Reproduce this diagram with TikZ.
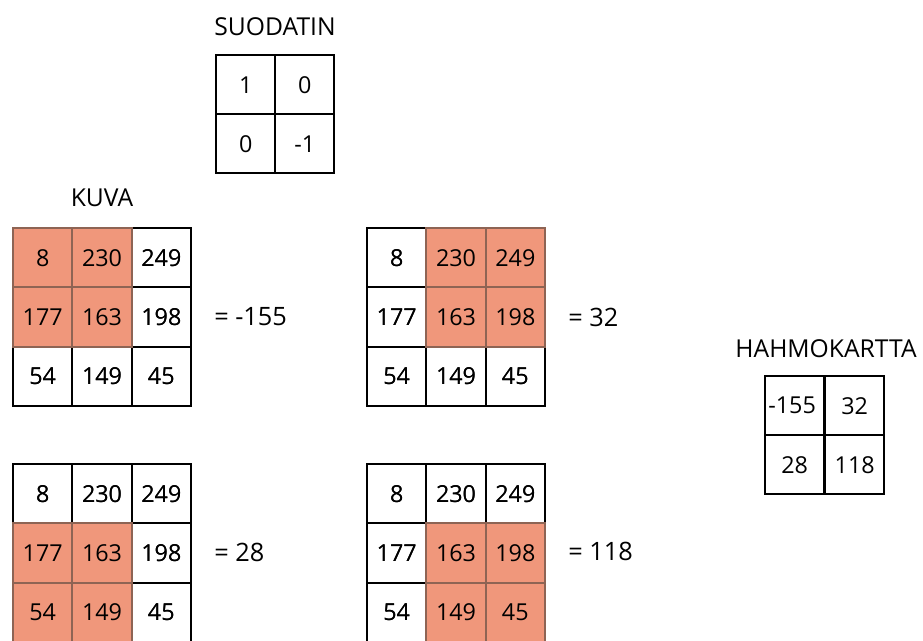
\documentclass[tikz,border=0pt]{standalone}
\usepackage{fontspec}
\setmainfont{Open Sans}
\definecolor{hilite}{HTML}{F0977B}
\definecolor{hiline}{HTML}{8E6454}
\tikzset{
  cell/.style={draw=black, line width=1.6, minimum width=59.3*0.75pt, minimum height=59.3*0.75pt,
    inner sep=0pt, font=\fontsize{17.5}{17.5}\selectfont, anchor=north west},
  hot/.style={fill=hilite, draw=hiline},
  title/.style={font=\fontsize{18.5}{19}\selectfont, inner sep=0pt},
  result/.style={font=\fontsize{19}{19}\selectfont, inner sep=0pt, anchor=west},
}
% \imgrid{name}{x}{y}{list of highlighted cells as r-c}
\newcommand{\imgrid}[4]{%
  \foreach \v [count=\i from 0] in {8,230,249,177,163,198,54,149,45}{%
    \pgfmathtruncatemacro{\r}{int(\i/3)}%
    \pgfmathtruncatemacro{\c}{mod(\i,3)}%
    \node[cell] (#1-\r-\c) at ({#2+\c*59.3},{#3+\r*59.3}) {\v};
  }%
  \foreach \h in {#4}{%
    \node[cell, hot] at (#1-\h.north west) {};
  }%
  \foreach \v [count=\i from 0] in {8,230,249,177,163,198,54,149,45}{%
    \pgfmathtruncatemacro{\r}{int(\i/3)}%
    \pgfmathtruncatemacro{\c}{mod(\i,3)}%
    \node[cell, draw=none] at (#1-\r-\c.north west) {\v};
  }%
}
\begin{document}
\begin{tikzpicture}[x=0.75pt, y=-0.75pt]
\useasboundingbox (0,0) rectangle (923,640);
\fill[white] (0,0) rectangle (923,640);

% filter
\node[title] (ftitle) at (275,27) {SUODATIN};
\node[cell] (f-0-0) at (215,54) {1};
\node[cell] (f-0-1) at (274,54) {0};
\node[cell] (f-1-0) at (215,113) {0};
\node[cell] (f-1-1) at (274,113) {-1};

% image windows
\node[title] (ktitle) at (102,198) {KUVA};
\imgrid{a}{12}{227}{0-0,0-1,1-0,1-1}
\imgrid{b}{366}{227}{0-1,0-2,1-1,1-2}
\imgrid{c}{12}{463}{1-0,1-1,2-0,2-1}
\imgrid{d}{366}{463}{1-1,1-2,2-1,2-2}

\node[result] (ra) at (214,317) {= -155};
\node[result] (rb) at (568,317) {= 32};
\node[result] (rc) at (214,552) {= 28};
\node[result] (rd) at (568,551) {= 118};

% feature map
\node[title] (htitle) at (826,349) {HAHMOKARTTA};
\node[cell] (h-0-0) at (764,375) {\hspace*{-4pt}-155};
\node[cell] (h-0-1) at (824,375) {32};
\node[cell] (h-1-0) at (764,434) {28};
\node[cell] (h-1-1) at (824,434) {118};
\end{tikzpicture}
\end{document}
